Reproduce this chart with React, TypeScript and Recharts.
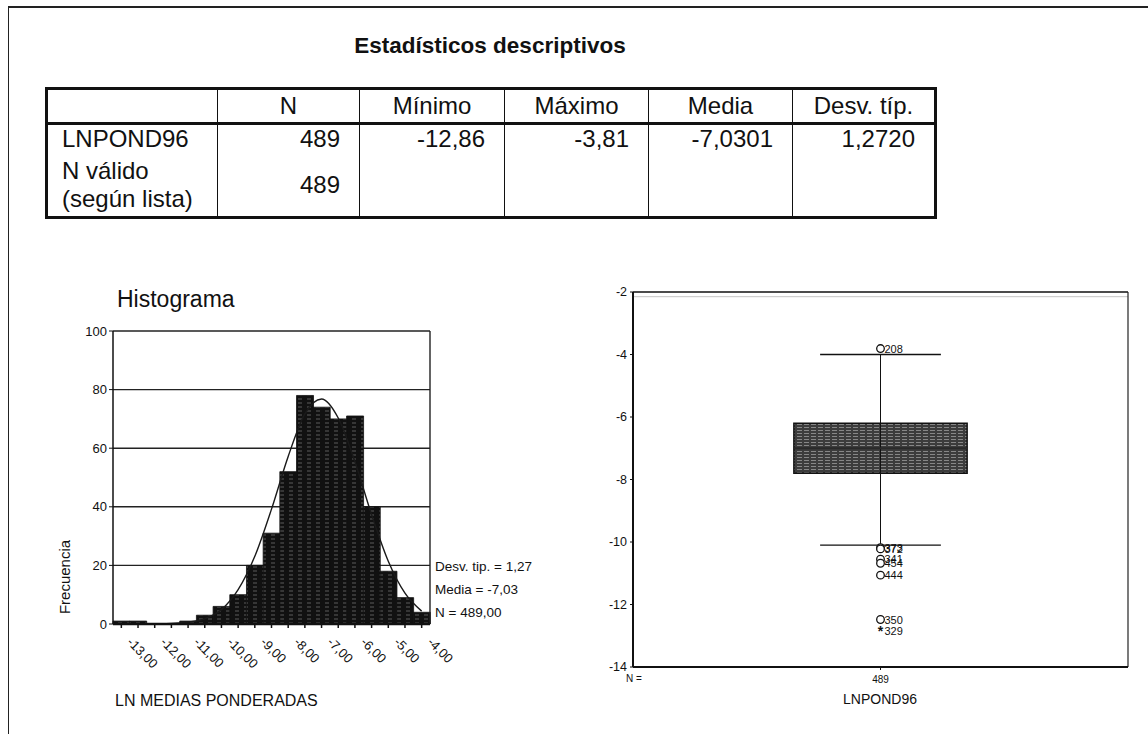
import React from "react";
import {
  Bar,
  ComposedChart,
  Line,
  ReferenceArea,
  ReferenceLine,
  Scatter,
  XAxis,
  YAxis,
  CartesianGrid,
} from "recharts";

const FONT = '"Liberation Sans", Arial, sans-serif';

//  TABLE

const tableHeaders = ["", "N", "Mínimo", "Máximo", "Media", "Desv. típ."];
const rowMain = ["LNPOND96", "489", "-12,86", "-3,81", "-7,0301", "1,2720"];
const rowValid = ["N válido\n(según lista)", "489", "", "", "", ""];
const colWidths = [171, 142, 145, 144, 144, 143];

//  HISTOGRAM

const binLabels = [
  "-13,00", "-12,50", "-12,00", "-11,50", "-11,00", "-10,50", "-10,00",
  "-9,50", "-9,00", "-8,50", "-8,00", "-7,50", "-7,00", "-6,50", "-6,00",
  "-5,50", "-5,00", "-4,50", "-4,00",
];
const binCounts = [1, 1, 0, 0, 1, 3, 6, 10, 20, 31, 52, 78, 74, 70, 71, 40, 18, 9, 4];
const normalCurve = [0, 0, 0, 0.2, 0.6, 1.8, 4.9, 11.7, 23.1, 39.2, 57.2, 71.7, 76.8, 70.3, 55.4, 37.3, 21.4, 10.5, 4.4];
const histTickLabels = ["-13,00", "-12,00", "-11,00", "-10,00", "-9,00", "-8,00", "-7,00", "-6,00", "-5,00", "-4,00"];
const histYTicks = [0, 20, 40, 60, 80, 100];
const histStats = ["Desv. tip. = 1,27", "Media = -7,03", "N = 489,00"];

//  BOXPLOT

const boxStats = [-10.1, -7.8, -7.0, -6.2, -4.0]; // low whisker, q1, median, q3, high whisker
const outlierValues = [-3.81, -10.18, -10.22, -10.55, -10.68, -11.06, -12.48, -12.86];
const outlierIds = ["208", "373", "372", "341", "454", "444", "350", "329"];
const outlierKinds = ["o", "o", "o", "o", "o", "o", "o", "*"];
const boxYTicks = [-14, -12, -10, -8, -6, -4, -2];
const boxN = "489";

const histData = binLabels.map((bin, i) => ({bin, count: binCounts[i], curve: normalCurve[i]}));
const outlierData = outlierValues.map((v, i) => ({x: 0.5, y: v, id: outlierIds[i], kind: outlierKinds[i]}));

function HistTick({x, y, payload}: any) {
  if (!histTickLabels.includes(payload.value)) return <g/>;
  const px = x + 5;
  const py = y + 13;
  return (
    <text x={px} y={py} transform={`rotate(45 ${px} ${py})`} fontSize={13} fontFamily={FONT} fill="#111">
      {payload.value}
    </text>
  );
}

function OutlierShape({cx, cy, payload}: any) {
  return (
    <g>
      {payload.kind === "*"
        ? <text x={cx} y={cy + 5} textAnchor="middle" fontSize={14} fontWeight="bold" fontFamily={FONT} fill="#111">*</text>
        : <circle cx={cx} cy={cy} r={3.8} fill="#fff" stroke="#111" strokeWidth={1.3}/>}
      <text x={cx + 4} y={cy + 4} fontSize={11} fontFamily={FONT} fill="#111">{payload.id}</text>
    </g>
  );
}

function StatsTable() {
  const cell = (txt: string, i: number, header: boolean) => (
    <td
      key={i}
      style={{
        borderLeft: i === 0 ? "none" : "1.5px solid #111",
        textAlign: header ? "center" : i === 0 ? "left" : "right",
        padding: header ? "0" : i === 0 ? "0 0 0 14px" : "0 19px 0 0",
        whiteSpace: "pre-line",
        lineHeight: "28px",
        verticalAlign: "middle",
      }}
    >{txt}</td>
  );
  return (
    <table
      style={{
        position: "absolute", left: 45, top: 87, width: 889, borderCollapse: "collapse",
        tableLayout: "fixed", border: "3px solid #111", fontFamily: FONT, fontSize: 24, color: "#111",
      }}
    >
      <colgroup>{colWidths.map((w, i) => <col key={i} style={{width: w}}/>)}</colgroup>
      <tbody>
        <tr style={{height: 35, borderBottom: "3px solid #111"}}>{tableHeaders.map((t, i) => cell(t, i, true))}</tr>
        <tr style={{height: 30}}>{rowMain.map((t, i) => cell(t, i, false))}</tr>
        <tr style={{height: 64}}>{rowValid.map((t, i) => cell(t, i, false))}</tr>
      </tbody>
    </table>
  );
}

export default function App() {
  return (
    <div style={{position: "absolute", left: 0, top: 0, width: 1148, height: 734, background: "#fff", fontFamily: FONT, overflow: "hidden"}}>
      <div style={{position: "absolute", left: 8, top: 6, width: 1140, height: 728, borderTop: "2px solid #222", borderLeft: "1.5px solid #222"}}/>

      <div style={{position: "absolute", left: 0, width: 980, top: 33, textAlign: "center", fontSize: 22.5, fontWeight: "bold", color: "#111"}}>
        Estadísticos descriptivos
      </div>
      <StatsTable/>

      {/* histogram */}
      <div style={{position: "absolute", left: 117, top: 286, fontSize: 23, color: "#111"}}>Histograma</div>
      <div style={{position: "absolute", left: 64, top: 577, fontSize: 15, color: "#111", transform: "translate(-50%, -50%) rotate(-90deg)", whiteSpace: "nowrap"}}>Frecuencia</div>
      <div style={{position: "absolute", left: 115, top: 692, fontSize: 16, color: "#111"}}>LN MEDIAS PONDERADAS</div>
      <div style={{position: "absolute", left: 63, top: 321}}>
        <ComposedChart width={412} height={353} data={histData} margin={{top: 10, right: 45, left: 0, bottom: 0}} barCategoryGap={0}>
          <defs>
            <pattern id="histFill" width="9" height="4" patternUnits="userSpaceOnUse">
              <rect width="9" height="4" fill="#111"/>
              <line x1="1" y1="2" x2="5" y2="2" stroke="#7a7a7a" strokeWidth="0.7"/>
            </pattern>
          </defs>
          <CartesianGrid vertical={false} stroke="#222" strokeWidth={1.4}/>
          <XAxis dataKey="bin" interval={0} tick={<HistTick/>} tickSize={4} tickMargin={2} axisLine={{stroke: "#111", strokeWidth: 2.5}} tickLine={{stroke: "#111", strokeWidth: 1.5}} height={50}/>
          <YAxis domain={[0, 100]} ticks={histYTicks} width={50} tickSize={4} tickMargin={2} tick={{fontSize: 13, fill: "#111", fontFamily: FONT}} axisLine={{stroke: "#111", strokeWidth: 1.5}} tickLine={{stroke: "#111"}}/>
          <ReferenceLine x="-4,00" position="end" stroke="#222" strokeWidth={1.4}/>
          <Bar dataKey="count" fill="url(#histFill)" stroke="#111" strokeWidth={0.8} isAnimationActive={false}/>
          <Line dataKey="curve" type="monotone" stroke="#1a1a1a" strokeWidth={1.4} dot={false} isAnimationActive={false}/>
        </ComposedChart>
      </div>
      {histStats.map((s, i) => (
        <div key={i} style={{position: "absolute", left: 435, top: 559 + i * 23, fontSize: 13.5, color: "#111", whiteSpace: "nowrap", background: "#fff"}}>{s}</div>
      ))}

      {/* boxplot */}
      <div style={{position: "absolute", left: 626, top: 673, fontSize: 10, color: "#111"}}>N =</div>
      <div style={{position: "absolute", left: 880, top: 691, fontSize: 14, color: "#111", transform: "translateX(-50%)"}}>LNPOND96</div>
      <div style={{position: "absolute", left: 573, top: 282}}>
        <ComposedChart width={560} height={415} margin={{top: 10, right: 5, left: 0, bottom: 0}}>
          <defs>
            <pattern id="boxFill" width="7" height="3" patternUnits="userSpaceOnUse">
              <rect width="7" height="3" fill="#3c3c3c"/>
              <line x1="0" y1="1.5" x2="5" y2="1.5" stroke="#9a9a9a" strokeWidth="0.8"/>
            </pattern>
          </defs>
          <XAxis type="number" dataKey="x" domain={[0, 1]} ticks={[0.5]} tickFormatter={() => boxN} tickSize={3} tickMargin={6} height={30} tick={{fontSize: 10, fill: "#111", fontFamily: FONT}} axisLine={{stroke: "#111", strokeWidth: 2}} tickLine={{stroke: "#111"}}/>
          <YAxis type="number" dataKey="y" domain={[-14, -2]} ticks={boxYTicks} width={60} tickSize={3} tickMargin={3} tick={{fontSize: 12.5, fill: "#111", fontFamily: FONT}} axisLine={{stroke: "#111", strokeWidth: 2}} tickLine={{stroke: "#111"}}/>
          <ReferenceLine y={-2} stroke="#111" strokeWidth={1.6}/>
          <ReferenceLine y={-2.15} stroke="#c4c4c4" strokeWidth={1}/>
          <ReferenceLine x={1} stroke="#222" strokeWidth={1.2}/>
          <ReferenceLine segment={[{x: 0.5, y: boxStats[0]}, {x: 0.5, y: boxStats[4]}]} stroke="#111" strokeWidth={1}/>
          <ReferenceLine segment={[{x: 0.378, y: boxStats[4]}, {x: 0.622, y: boxStats[4]}]} stroke="#111" strokeWidth={1.3}/>
          <ReferenceLine segment={[{x: 0.378, y: boxStats[0]}, {x: 0.622, y: boxStats[0]}]} stroke="#111" strokeWidth={1.3}/>
          <ReferenceArea x1={0.325} x2={0.675} y1={boxStats[1]} y2={boxStats[3]} fill="url(#boxFill)" fillOpacity={1} stroke="#111" strokeWidth={1.5}/>
          <ReferenceLine segment={[{x: 0.325, y: boxStats[2]}, {x: 0.675, y: boxStats[2]}]} stroke="#2a2a2a" strokeWidth={2}/>
          <Scatter data={outlierData} dataKey="y" shape={<OutlierShape/>} isAnimationActive={false}/>
        </ComposedChart>
      </div>
    </div>
  );
}
